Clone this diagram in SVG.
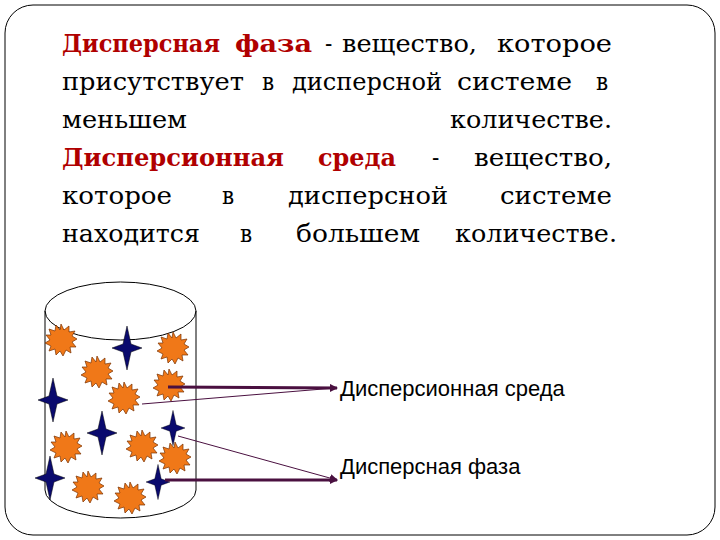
<svg xmlns="http://www.w3.org/2000/svg" xmlns:xlink="http://www.w3.org/1999/xlink" width="720" height="540" viewBox="0 0 720 540">
<defs>
<style>
text.t{font-family:'DejaVu Serif Condensed','DejaVu Serif',serif;font-size:24px;fill:#000}
.r{fill:#b00000;font-weight:bold}
text.l{font-family:'Liberation Sans',Arial,sans-serif;font-size:22px;fill:#000}
.thick{stroke:#4a1040;stroke-width:3;fill:none}
.thin{stroke:#4a1040;stroke-width:1;fill:none}
</style>
<path id="star" d="M0,-22 L4,-4 L15,0 L4,4 L0,22 L-4,4 L-15,0 L-4,-4Z" fill="#0a0a6e" stroke="#000" stroke-width="0.5"/>
<path id="burst" d="M0,-16 L3,-10 L8,-14 L8,-8 L14,-9 L11,-4 L16,-1 L11,2 L15,7 L9,7 L10,13 L5,10 L2,16 L-1,11 L-5,15 L-6,9 L-12,11 L-10,6 L-16,3 L-11,0 L-15,-5 L-10,-5 L-12,-11 L-6,-9 L-5,-15 L-1,-10Z" fill="#f07818" stroke="#7a3000" stroke-width="0.7"/>
<marker id="ah" markerWidth="8" markerHeight="8" refX="7" refY="4" orient="auto" markerUnits="userSpaceOnUse"><path d="M0,0 L8,4 L0,8Z" fill="#4a1040"/></marker>
</defs>
<rect x="5" y="5" width="710" height="530" rx="28" fill="#fff" stroke="#000" stroke-width="1"/>
<g id="text">
<text class="t" y="52"><tspan class="r" x="62" textLength="158" lengthAdjust="spacingAndGlyphs">Дисперсная</tspan><tspan class="r" x="235" textLength="77" lengthAdjust="spacingAndGlyphs">фаза</tspan><tspan x="325">-</tspan><tspan x="342" textLength="135" lengthAdjust="spacingAndGlyphs">вещество,</tspan><tspan x="497" textLength="115" lengthAdjust="spacingAndGlyphs">которое</tspan></text>
<text class="t" y="90"><tspan x="62" textLength="182" lengthAdjust="spacingAndGlyphs">присутствует</tspan><tspan x="262">в</tspan><tspan x="292" textLength="150" lengthAdjust="spacingAndGlyphs">дисперсной</tspan><tspan x="457" textLength="115" lengthAdjust="spacingAndGlyphs">системе</tspan><tspan x="596">в</tspan></text>
<text class="t" y="128"><tspan x="62" textLength="125" lengthAdjust="spacingAndGlyphs">меньшем</tspan><tspan x="450" textLength="162" lengthAdjust="spacingAndGlyphs">количестве.</tspan></text>
<text class="t" y="166"><tspan class="r" x="62" textLength="222" lengthAdjust="spacingAndGlyphs">Дисперсионная</tspan><tspan class="r" x="318" textLength="78" lengthAdjust="spacingAndGlyphs">среда</tspan><tspan x="432">-</tspan><tspan x="474" textLength="138" lengthAdjust="spacingAndGlyphs">вещество,</tspan></text>
<text class="t" y="204"><tspan x="62" textLength="110" lengthAdjust="spacingAndGlyphs">которое</tspan><tspan x="222">в</tspan><tspan x="288" textLength="160" lengthAdjust="spacingAndGlyphs">дисперсной</tspan><tspan x="500" textLength="112" lengthAdjust="spacingAndGlyphs">системе</tspan></text>
<text class="t" y="242"><tspan x="62" textLength="138" lengthAdjust="spacingAndGlyphs">находится</tspan><tspan x="240">в</tspan><tspan x="296" textLength="124" lengthAdjust="spacingAndGlyphs">большем</tspan><tspan x="455" textLength="162" lengthAdjust="spacingAndGlyphs">количестве.</tspan></text>
</g>
<g id="cylinder" fill="none" stroke="#000" stroke-width="1">
<ellipse cx="120.5" cy="311" rx="75.5" ry="29"/>
<path d="M45,311 L45,490 A75.5,28 0 0 0 196,490 L196,311"/>
</g>
<g id="particles">
<use xlink:href="#burst" x="61" y="340"/>
<use xlink:href="#burst" x="173" y="348"/>
<use xlink:href="#burst" x="97" y="372"/>
<use xlink:href="#burst" x="169" y="385"/>
<use xlink:href="#burst" x="124" y="398"/>
<use xlink:href="#burst" x="66" y="447"/>
<use xlink:href="#burst" x="142" y="446"/>
<use xlink:href="#burst" x="175" y="458"/>
<use xlink:href="#burst" x="88" y="487"/>
<use xlink:href="#burst" x="130" y="498"/>
<use xlink:href="#star" x="127" y="348"/>
<use xlink:href="#star" x="53" y="400"/>
<use xlink:href="#star" x="102" y="433"/>
<use xlink:href="#star" x="173" y="428" transform="translate(173,428) scale(0.8) translate(-173,-428)"/>
<use xlink:href="#star" x="50" y="478"/>
<use xlink:href="#star" x="158" y="482" transform="translate(158,482) scale(0.8) translate(-158,-482)"/>
</g>
<g id="connectors">
<line class="thick" x1="168" y1="387" x2="337" y2="388" marker-end="url(#ah)"/>
<line class="thin" x1="142" y1="404" x2="335" y2="388"/>
<line class="thin" x1="178" y1="436" x2="337" y2="480" marker-end="url(#ah)"/>
<line class="thick" x1="165" y1="480" x2="337" y2="480" marker-end="url(#ah)"/>
</g>
<g id="labels">
<text class="l" x="340" y="396">Дисперсионная среда</text>
<text class="l" x="340" y="474">Дисперсная фаза</text>
</g>
</svg>
